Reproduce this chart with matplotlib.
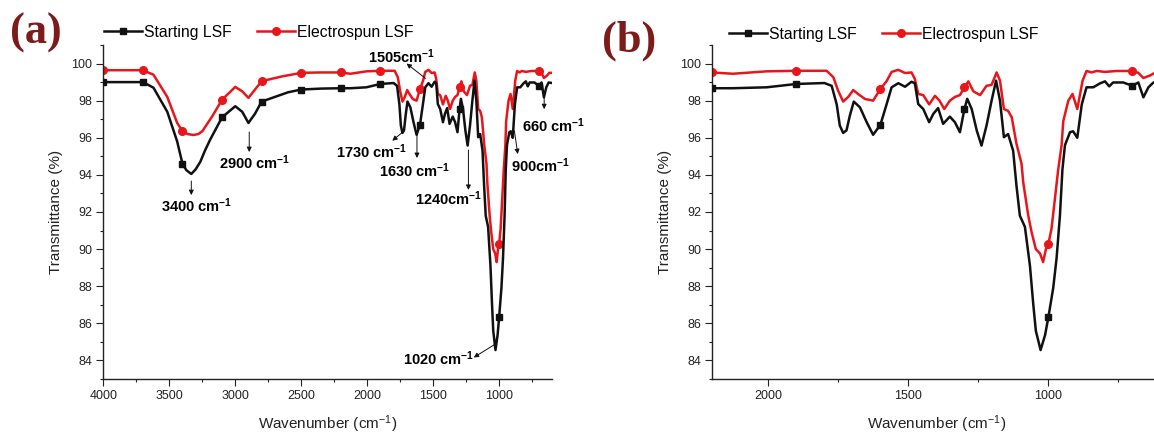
import matplotlib
matplotlib.use("Agg")

import matplotlib.pyplot as plt
from matplotlib.ticker import MultipleLocator, FixedLocator

plt.rcParams['font.family'] = ['Liberation Sans', 'DejaVu Sans']
plt.rcParams['mathtext.fontset'] = 'custom'
plt.rcParams['mathtext.rm'] = 'Liberation Sans'
plt.rcParams['mathtext.bf'] = 'Liberation Sans:bold'
plt.rcParams['mathtext.default'] = 'rm'

# Espectros FTIR (numero de onda en cm-1, transmitancia en %)
wn_start = [4000, 3850, 3700, 3620, 3515, 3440, 3400, 3370, 3333, 3300, 3265, 3230, 3190,
            3100, 3000, 2947, 2900, 2850, 2800, 2700, 2600, 2500, 2350, 2200, 2127, 2006,
            1900, 1800, 1774, 1756, 1745, 1733, 1721, 1709, 1695, 1673, 1649, 1626, 1600,
            1578, 1560, 1536, 1512, 1489, 1477, 1465, 1447, 1426, 1411, 1394, 1376,
            1352, 1334, 1316, 1300, 1290, 1274, 1256, 1239, 1221, 1203, 1187, 1173,
            1159, 1144, 1126, 1114, 1102, 1084, 1066, 1054, 1045, 1028, 1012, 1000,
            983, 971, 959, 950, 941, 923, 912, 897, 881, 864, 840, 816, 798, 783,
            769, 733, 700, 679, 661, 643, 625, 600]
t_start = [99.0, 99.0, 99.0, 98.7, 97.4, 95.8, 94.6, 94.25, 94.05, 94.3, 94.7, 95.3, 95.9,
           97.1, 97.7, 97.4, 96.8, 97.3, 97.95, 98.2, 98.45, 98.6, 98.65, 98.67, 98.67, 98.72,
           98.9, 98.95, 98.8, 97.8, 96.66, 96.26, 96.4, 97.2, 97.95, 97.64, 96.84, 96.16, 96.7,
           97.8, 98.72, 98.94, 98.75, 99.02, 98.94, 97.82, 97.55, 96.84, 97.29, 97.6, 96.75,
           97.14, 96.84, 96.3, 97.55, 98.1, 97.55, 96.39, 95.58, 96.66, 98.0, 99.08, 98.0,
           96.03, 96.2, 95.3, 93.4, 91.8, 91.2, 89.1, 87.0, 85.6, 84.56, 85.37, 86.35,
           87.9, 89.5, 91.8, 94.3, 95.6, 96.3, 96.35, 96.0, 97.8, 98.72, 98.72, 98.93, 99.04, 98.77,
           98.98, 98.98, 98.8, 98.98, 98.18, 98.72, 98.98, 98.95]

wn_spun = [4000, 3850, 3700, 3620, 3515, 3440, 3400, 3360, 3318, 3280, 3250, 3175, 3100,
           3000, 2947, 2900, 2850, 2800, 2650, 2500, 2350, 2200, 2127, 2006, 1900, 1792,
           1768, 1751, 1733, 1715, 1697, 1679, 1655, 1626, 1600, 1578, 1560, 1536,
           1512, 1489, 1477, 1465, 1447, 1426, 1405, 1389, 1372, 1352, 1334, 1316,
           1300, 1286, 1268, 1244, 1221, 1203, 1185, 1173, 1159, 1144, 1131, 1114,
           1096, 1090, 1072, 1060, 1045, 1030, 1019, 1009, 1000, 989, 977, 965,
           953, 947, 929, 914, 897, 878, 864, 846, 828, 798, 756, 700, 679, 661,
           638, 620, 600]
t_spun = [99.64, 99.64, 99.64, 99.4, 98.2, 96.8, 96.35, 96.2, 96.15, 96.2, 96.35, 97.15, 98.05,
          98.74, 98.5, 98.15, 98.6, 99.05, 99.3, 99.5, 99.52, 99.52, 99.45, 99.58, 99.61, 99.61,
          99.26, 98.54, 97.95, 98.2, 98.57, 98.35, 98.09, 98.0, 98.63, 99.05, 99.55, 99.66,
          99.49, 99.52, 99.17, 98.36, 98.3, 97.8, 98.26, 98.0, 97.55, 98.0, 98.2, 98.3,
          98.72, 99.04, 98.5, 98.3, 98.8, 98.85, 99.52, 99.08, 97.55, 97.45, 97.1, 95.67,
          94.6, 93.6, 91.8, 90.9, 90.0, 89.76, 89.3, 90.0, 90.3, 91.1, 92.7, 94.3,
          95.6, 96.9, 98.0, 98.36, 97.55, 99.08, 99.6, 99.52, 99.6, 99.55, 99.6, 99.6, 99.5, 99.22,
          99.35, 99.5, 99.5]

# Posiciones de los simbolos sobre las curvas
marks = [4000, 3700, 3400, 3100, 2800, 2500, 2200, 1900, 1600, 1300, 1000, 700]

# Anotaciones del panel (a): texto, posicion del texto, inicio y punta de la flecha
labels = ["3400 cm", "2900 cm", "1505cm", "1730 cm", "1630 cm", "1240cm", "1020 cm", "900cm", "660 cm"]
label_xy = [(3289, 92.33), (2856, 94.64), (1740, 100.37), (1967, 95.23), (1637, 94.23),
            (1387, 92.70), (1459, 84.10), (684, 94.50), (586, 96.65)]
arrow_from = [(3333, 93.67), (2894, 96.31), (1558, 99.20), (1734, 96.29), (1623, 96.15),
              (1233, 95.34), (1034, 84.86), (885, 96.38), (659, 98.26)]
arrow_to = [(3333, 92.91), (2894, 95.23), (1702, 100.0), (1810, 95.84), (1623, 94.91),
            (1233, 93.19), (1193, 84.16), (859, 95.12), (659, 97.54)]

idx_start = [i for i, w in enumerate(wn_start) if w in marks]
idx_spun = [i for i, w in enumerate(wn_spun) if w in marks]

fig = plt.figure(figsize=(11.54, 4.33), dpi=100)
ax_a = fig.add_axes([0.0895, 0.1247, 0.3888, 0.7714])
ax_b = fig.add_axes([0.6173, 0.1247, 0.3883, 0.7714])


def draw_panel(ax, xlim, legend_xy):
    ax.plot(wn_start, t_start, color='#111111', lw=1.8, marker='s', ms=5,
            markevery=idx_start, label='Starting LSF', zorder=3,
            solid_joinstyle='round')
    ax.plot(wn_spun, t_spun, color='#e8161b', lw=1.8, marker='o', ms=5.5,
            markevery=idx_spun, label='Electrospun LSF', zorder=2,
            solid_joinstyle='round')
    ax.set_xlim(*xlim)
    ax.set_ylim(83, 101)
    ax.xaxis.set_major_locator(MultipleLocator(500))
    ax.xaxis.set_minor_locator(MultipleLocator(250))
    ax.yaxis.set_major_locator(FixedLocator(range(84, 101, 2)))
    ax.yaxis.set_minor_locator(MultipleLocator(1))
    ax.spines['top'].set_visible(False)
    ax.spines['right'].set_visible(False)
    for s in ('left', 'bottom'):
        ax.spines[s].set_linewidth(1.0)
        ax.spines[s].set_color('#222222')
    ax.tick_params(which='major', direction='out', length=5, width=0.8,
                   labelsize=9, colors='#222222', pad=3)
    ax.tick_params(which='minor', direction='out', length=2.5, width=0.8, colors='#222222')
    ax.set_xlabel("Wavenumber (cm$^{-1}$)", fontsize=11, labelpad=8, color='#222222')
    ax.set_ylabel("Transmittance (%)", fontsize=11, labelpad=6, color='#222222')
    ax.legend(loc='center left', bbox_to_anchor=legend_xy, bbox_transform=fig.transFigure,
              ncol=2, frameon=False, fontsize=11.3, handlelength=2.4, handletextpad=0.15,
              columnspacing=1.6, borderpad=0, borderaxespad=0)


draw_panel(ax_a, (4000, 600), (104 / 1154, 1 - 32 / 433))
draw_panel(ax_b, (2200, 600), (729 / 1154, 1 - 34 / 433))

for txt, pos, a0, a1 in zip(labels, label_xy, arrow_from, arrow_to):
    ax_a.text(pos[0], pos[1], txt + r"$^{\mathbf{-1}}$", fontsize=10.5, fontweight='bold',
              ha='center', va='center', clip_on=False)
    ax_a.annotate('', xy=a1, xytext=a0,
                  arrowprops=dict(arrowstyle='-|>', color='#111111', lw=0.7,
                                  mutation_scale=7, shrinkA=0, shrinkB=0))

fig.text(10 / 1154, 1 - 33 / 433, "(a)", fontsize=32, fontweight='bold',
         family='Liberation Serif', color='#7d1a1a', ha='left', va='center')
fig.text(602 / 1154, 1 - 41 / 433, "(b)", fontsize=32, fontweight='bold',
         family='Liberation Serif', color='#7d1a1a', ha='left', va='center')

fig.savefig("out.png", dpi=100)
plt.close(fig)
